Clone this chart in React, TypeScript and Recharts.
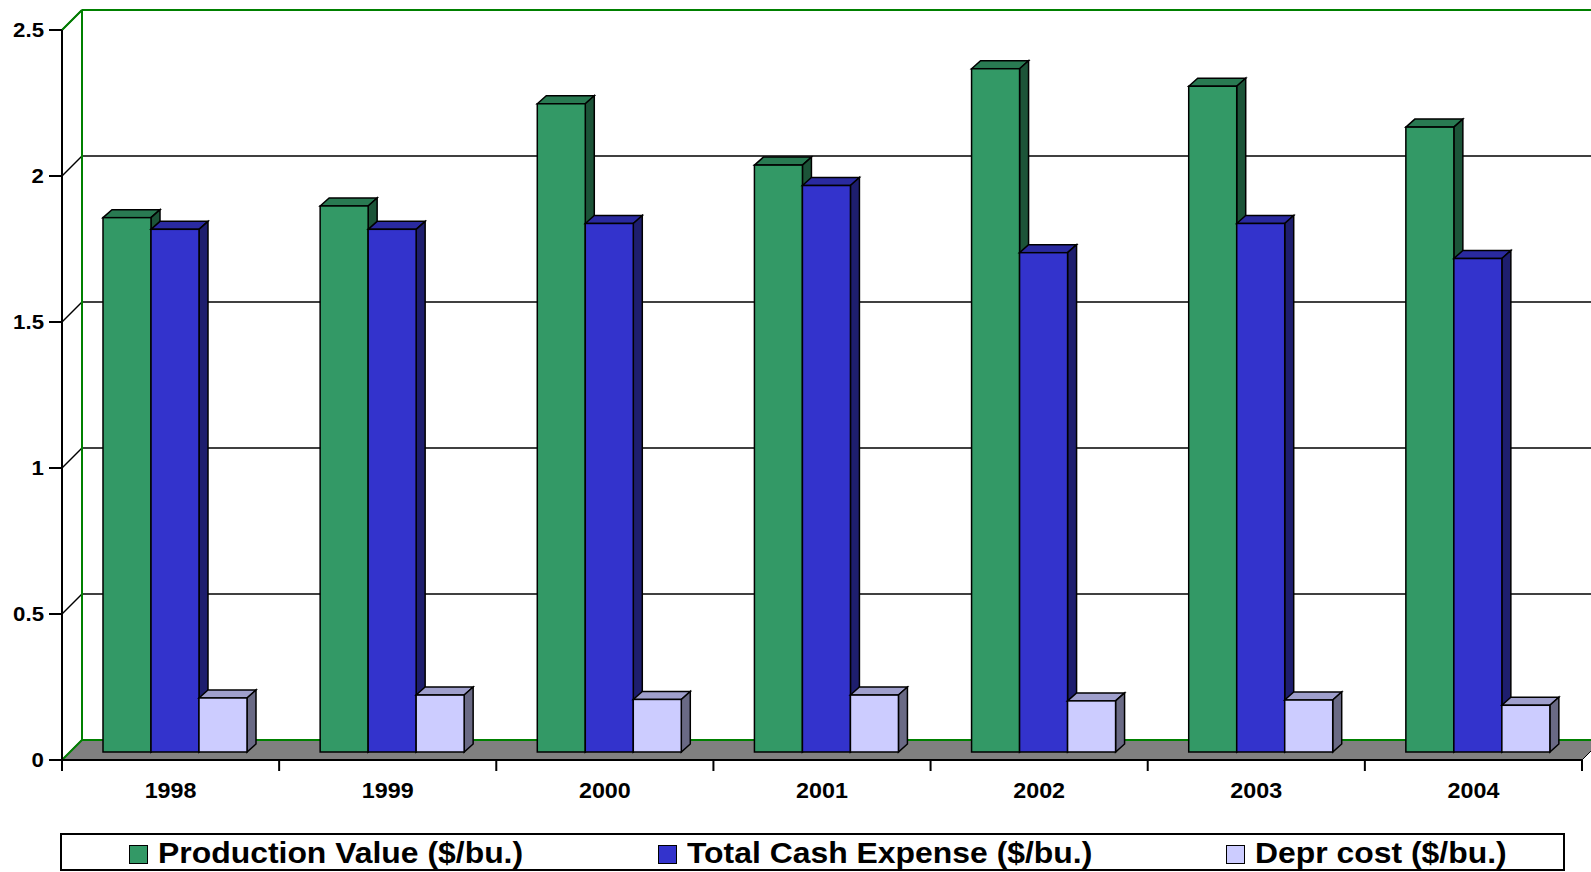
import React from "react"
import {
  BarChart,
  Bar,
  XAxis,
  YAxis,
  CartesianGrid,
  ReferenceArea,
  Legend,
} from "recharts"

const years = ["1998", "1999", "2000", "2001", "2002", "2003", "2004"]
const productionValue = [1.83, 1.87, 2.22, 2.01, 2.34, 2.28, 2.14]
const totalCashExpense = [1.79, 1.79, 1.81, 1.94, 1.71, 1.81, 1.69]
const deprCost = [0.185, 0.195, 0.18, 0.195, 0.175, 0.178, 0.16]
const yTicks = [0, 0.5, 1, 1.5, 2, 2.5]
const seriesNames = ["Production Value ($/bu.)", "Total Cash Expense ($/bu.)", "Depr cost ($/bu.)"]

const FONT = "'Liberation Sans', Arial, sans-serif"
const STRETCH = 1.06 // the source text is a bit wide
const WALL = 20 // depth of the back wall
const DX = 9 // bar depth
const DY = 8
const BAR_SHIFT_X = 4
const BAR_SHIFT_Y = 8
const GREEN = "#008000"

const colors = [
  { front: "#339966", top: "#297a52", side: "#1c5438" },
  { front: "#3333CC", top: "#2a2aa0", side: "#1e1e6e" },
  { front: "#CCCCFF", top: "#9f9fcc", side: "#6a6a85" },
]

// legend item offsets inside the box
const legendLefts = [67, 596, 1164]

const data = years.map((year, i) => ({
  year,
  production: productionValue[i],
  cash: totalCashExpense[i],
  depr: deprCost[i],
}))

const make3DBar = (c: { front: string; top: string; side: string }) => (props: any) => {
  const { x, y, width, height } = props
  if (x == null || y == null || !height) return <g />
  const fx = x + BAR_SHIFT_X
  const fy = y - BAR_SHIFT_Y
  const w = width
  const h = height
  return (
    <g stroke="#000" strokeWidth={1.5} strokeLinejoin="miter">
      <polygon
        points={`${fx},${fy} ${fx + DX},${fy - DY} ${fx + w + DX},${fy - DY} ${fx + w},${fy}`}
        fill={c.top}
      />
      <polygon
        points={`${fx + w},${fy} ${fx + w + DX},${fy - DY} ${fx + w + DX},${fy + h - DY} ${fx + w},${fy + h}`}
        fill={c.side}
      />
      <rect x={fx} y={fy} width={w} height={h} fill={c.front} />
    </g>
  )
}

// gridline drawn on the back wall with a diagonal from the axis
const BackGridLine = (p: any) => {
  const { x1, y1, x2 } = p
  return (
    <g key={p.key}>
      <line x1={x1} y1={y1} x2={x1 + WALL} y2={y1 - WALL} stroke="#000" strokeWidth={1.5} />
      <line x1={x1 + WALL} y1={y1 - WALL} x2={x2 + WALL} y2={y1 - WALL} stroke="#000" strokeWidth={1.5} />
    </g>
  )
}

// floor + green wall frame over the whole plot area
const Frame = (p: any) => {
  const { x, y, width, height } = p
  if (x == null) return <g />
  const b = y + height
  const r = x + width
  return (
    <g>
      <polygon
        points={`${x},${b} ${x + WALL},${b - WALL} ${r + WALL},${b - WALL} ${r},${b}`}
        fill="#808080"
        stroke="#000"
        strokeWidth={1}
      />
      <line x1={x + WALL} y1={b - WALL} x2={r + WALL} y2={b - WALL} stroke={GREEN} strokeWidth={2} />
      <line x1={x} y1={b} x2={x + WALL} y2={b - WALL} stroke={GREEN} strokeWidth={2} />
      <line x1={x + WALL} y1={y - WALL} x2={x + WALL} y2={b - WALL} stroke={GREEN} strokeWidth={2} />
      <line x1={x + WALL} y1={y - WALL} x2={r + WALL} y2={y - WALL} stroke={GREEN} strokeWidth={2} />
      <line x1={x} y1={y} x2={x + WALL} y2={y - WALL} stroke={GREEN} strokeWidth={2} />
    </g>
  )
}

const YearTick = (props: any) => {
  const { x, y, payload, index } = props
  const half = payload && payload.offset ? payload.offset : 108.6
  return (
    <g>
      <line x1={x - half} y1={y} x2={x - half} y2={y + 11} stroke="#000" strokeWidth={2} />
      {index === years.length - 1 && (
        <line x1={x + half} y1={y} x2={x + half} y2={y + 11} stroke="#000" strokeWidth={2} />
      )}
      <text
        transform={`translate(${x},${y + 38}) scale(${STRETCH},1)`}
        textAnchor="middle"
        fontSize={22}
        fontWeight="bold"
        fontFamily={FONT}
        fill="#000"
      >
        {payload.value}
      </text>
    </g>
  )
}

const ValueTick = (props: any) => {
  const { x, y, payload } = props
  return (
    <text
      transform={`translate(${x},${y}) scale(${STRETCH},1)`}
      dy="0.355em"
      textAnchor="end"
      fontSize={21}
      fontWeight="bold"
      fontFamily={FONT}
      fill="#000"
    >
      {payload.value}
    </text>
  )
}

const LegendBox = () => (
  <div
    style={{
      position: "relative",
      boxSizing: "border-box",
      width: 1505,
      height: 38,
      border: "2px solid #000",
      background: "#fff",
      fontFamily: FONT,
      fontWeight: "bold",
      fontSize: 29,
      lineHeight: "29px",
      color: "#000",
    }}
  >
    {seriesNames.map((name, i) => (
      <React.Fragment key={name}>
        <span
          style={{
            position: "absolute",
            left: legendLefts[i],
            top: 10,
            boxSizing: "border-box",
            width: 19,
            height: 19,
            background: colors[i].front,
            border: "1.5px solid #000",
          }}
        />
        <span
          style={{
            position: "absolute",
            left: legendLefts[i] + 29,
            top: 3.5,
            whiteSpace: "nowrap",
            transform: `scaleX(1.1)`,
            transformOrigin: "left center",
          }}
        >
          {name}
        </span>
      </React.Fragment>
    ))}
  </div>
)

export default function App() {
  return (
    <div style={{ position: "absolute", left: 0, top: 0, width: 1591, height: 872, background: "#fff", overflow: "hidden" }}>
      <BarChart
        width={1591}
        height={872}
        data={data}
        margin={{ top: 30, right: 9, bottom: 14, left: 0 }}
        barSize={48}
        barGap={0}
      >
        <CartesianGrid vertical={false} horizontal={BackGridLine as any} />
        <ReferenceArea y1={0} y2={2.5} ifOverflow="visible" shape={Frame as any} />
        <XAxis
          dataKey="year"
          height={60}
          axisLine={{ stroke: "#000", strokeWidth: 2 }}
          tickLine={false}
          tickSize={0}
          tickMargin={0}
          tick={<YearTick />}
          interval={0}
        />
        <YAxis
          width={62}
          domain={[0, 2.5]}
          ticks={yTicks}
          axisLine={{ stroke: "#000", strokeWidth: 2 }}
          tickLine={{ stroke: "#000", strokeWidth: 2 }}
          tickSize={13}
          tickMargin={5}
          tick={<ValueTick />}
        />
        <Legend
          verticalAlign="bottom"
          content={<LegendBox />}
          wrapperStyle={{ left: 60, top: 833, bottom: "auto", width: 1505 }}
        />
        <Bar dataKey="production" name={seriesNames[0]} fill={colors[0].front} shape={make3DBar(colors[0])} isAnimationActive={false} />
        <Bar dataKey="cash" name={seriesNames[1]} fill={colors[1].front} shape={make3DBar(colors[1])} isAnimationActive={false} />
        <Bar dataKey="depr" name={seriesNames[2]} fill={colors[2].front} shape={make3DBar(colors[2])} isAnimationActive={false} />
      </BarChart>
    </div>
  )
}
